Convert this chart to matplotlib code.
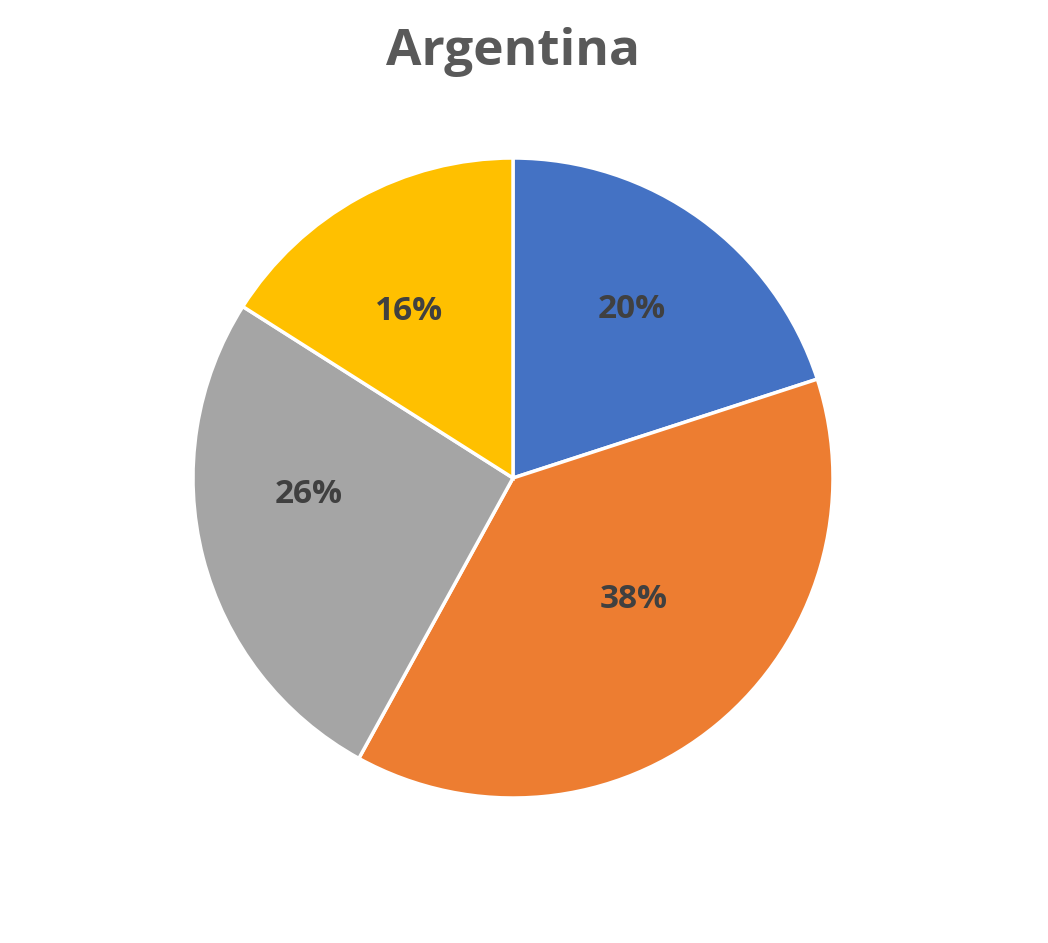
import matplotlib
matplotlib.use("Agg")
import matplotlib.pyplot as plt

categories = ["A", "B", "C", "D"]
values = [20, 38, 26, 16]
colors = ["#4472C4", "#ED7D31", "#A5A5A5", "#FFC000"]
title = "Argentina"

# label placement (layout, in units of pie radius), as Excel places them
label_xy = [(0.372, 0.525), (0.378, -0.381), (-0.638, -0.050), (-0.325, 0.519)]

fig = plt.figure(figsize=(10.48, 9.43), dpi=100)
fig.patch.set_facecolor("white")
cx, cy, r = 513 / 1048, 1 - 478 / 943, 320
ax = fig.add_axes([cx - r / 1048, cy - r / 943, 2 * r / 1048, 2 * r / 943])
wedges, texts, autotexts = ax.pie(
    values, colors=colors, startangle=90, counterclock=False,
    autopct=lambda p: f"{p:.0f}%", pctdistance=0.64,
    wedgeprops=dict(edgecolor="white", linewidth=2.5),
    textprops=dict(color="#404040", fontsize=24, fontweight="bold", family="Open Sans"),
)
for t, pos in zip(autotexts, label_xy):
    t.set_position(pos)
ax.set_xlim(-1, 1)
ax.set_ylim(-1, 1)
ax.set_aspect("equal")
fig.text(cx, 1 - 52 / 943, title, ha="center", va="center", fontsize=37,
         fontweight="bold", color="#595959", family="Open Sans")
fig.savefig("out.png", dpi=100, facecolor="white")
